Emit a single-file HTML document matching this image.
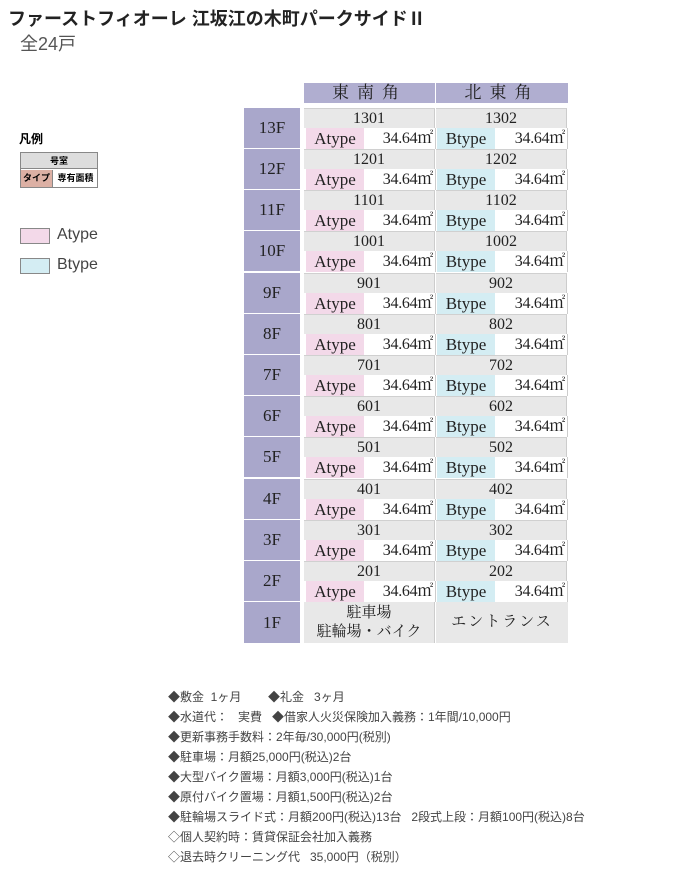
<!DOCTYPE html>
<html><head><meta charset="utf-8"><style>
*{margin:0;padding:0;box-sizing:border-box}
body{width:700px;height:869px;background:#fff;position:relative;font-family:"Liberation Sans","Noto Sans CJK JP",sans-serif;overflow:hidden}
.a{position:absolute}
.s{font-family:"Liberation Serif","Noto Serif CJK SC",serif;color:#222}
.fl{position:absolute;left:244px;width:56px;background:#a9a7cb;border-bottom:2px solid #fff;display:flex;align-items:center;justify-content:center;font-size:17px}
.f{position:absolute;left:304px;width:265px;height:41px}
.n{position:absolute;top:0;height:20px;width:131px;background:#e8e8e8;text-align:center;font-size:16px;line-height:20px;border-right:1px solid #ccc;border-top:1px solid #d0d0d0}
.t{position:absolute;top:20px;height:21px;width:58px;font-size:17px;line-height:21px;text-align:center}
.v{position:absolute;top:20px;height:21px;width:72px;background:#fff;font-size:16px;line-height:21px;text-align:right;padding-right:2px;border-right:1px solid #ccc;letter-spacing:-0.3px}
.ta{background:#f3d9e9}.tb{background:#d4edf3}
.note{position:absolute;left:168px;font-size:12px;color:#444;white-space:pre}
</style></head><body>
<div class="a" style="left:8px;top:5px;font-size:18px;font-weight:bold;color:#222">ファーストフィオーレ 江坂江の木町パークサイドⅡ</div>
<div class="a" style="left:20px;top:30px;font-size:18px;color:#555">全24戸</div>
<div class="a" style="left:19px;top:130px;font-size:12px;font-weight:bold">凡例</div>
<div class="a" style="left:20px;top:152px;width:78px;height:36px;border:1px solid #888;font-size:9px;font-weight:bold">
<div style="height:16px;background:#ddd;text-align:center;line-height:16px;border-bottom:1px solid #888">号室</div>
<div style="position:absolute;left:0;top:17px;width:32px;height:17px;background:#dcb0a4;text-align:center;line-height:17px;border-right:1px solid #888">タイプ</div>
<div style="position:absolute;left:33px;top:17px;width:43px;height:17px;text-align:center;line-height:17px">専有面積</div></div>
<div class="a" style="left:20px;top:228px;width:30px;height:16px;background:#f3d9e9;border:1px solid #888"></div>
<div class="a" style="left:57px;top:226px;font-size:16px;color:#444">Atype</div>
<div class="a" style="left:20px;top:258px;width:30px;height:16px;background:#d4edf3;border:1px solid #888"></div>
<div class="a" style="left:57px;top:256px;font-size:16px;color:#444">Btype</div>

<div class="a s" style="left:304px;top:83px;width:131px;height:20px;background:#b0aed0;text-align:center;font-size:17px;line-height:20px;letter-spacing:8px">東南角</div>
<div class="a s" style="left:436px;top:83px;width:132px;height:20px;background:#b0aed0;text-align:center;font-size:17px;line-height:20px;letter-spacing:8px">北東角</div>

<div class="fl s" style="top:108px;height:42px">13F</div>
<div class="f s" style="top:108px"><div class="n" style="left:0">1301</div><div class="n" style="left:132px">1302</div><div class="t ta" style="left:2px">Atype</div><div class="v" style="left:60px">34.64㎡</div><div class="t tb" style="left:133px">Btype</div><div class="v" style="left:192px">34.64㎡</div></div>
<div class="fl s" style="top:149px;height:42px">12F</div>
<div class="f s" style="top:149px"><div class="n" style="left:0">1201</div><div class="n" style="left:132px">1202</div><div class="t ta" style="left:2px">Atype</div><div class="v" style="left:60px">34.64㎡</div><div class="t tb" style="left:133px">Btype</div><div class="v" style="left:192px">34.64㎡</div></div>
<div class="fl s" style="top:190px;height:42px">11F</div>
<div class="f s" style="top:190px"><div class="n" style="left:0">1101</div><div class="n" style="left:132px">1102</div><div class="t ta" style="left:2px">Atype</div><div class="v" style="left:60px">34.64㎡</div><div class="t tb" style="left:133px">Btype</div><div class="v" style="left:192px">34.64㎡</div></div>
<div class="fl s" style="top:231px;height:42px">10F</div>
<div class="f s" style="top:231px"><div class="n" style="left:0">1001</div><div class="n" style="left:132px">1002</div><div class="t ta" style="left:2px">Atype</div><div class="v" style="left:60px">34.64㎡</div><div class="t tb" style="left:133px">Btype</div><div class="v" style="left:192px">34.64㎡</div></div>
<div class="fl s" style="top:273px;height:42px">9F</div>
<div class="f s" style="top:273px"><div class="n" style="left:0">901</div><div class="n" style="left:132px">902</div><div class="t ta" style="left:2px">Atype</div><div class="v" style="left:60px">34.64㎡</div><div class="t tb" style="left:133px">Btype</div><div class="v" style="left:192px">34.64㎡</div></div>
<div class="fl s" style="top:314px;height:42px">8F</div>
<div class="f s" style="top:314px"><div class="n" style="left:0">801</div><div class="n" style="left:132px">802</div><div class="t ta" style="left:2px">Atype</div><div class="v" style="left:60px">34.64㎡</div><div class="t tb" style="left:133px">Btype</div><div class="v" style="left:192px">34.64㎡</div></div>
<div class="fl s" style="top:355px;height:42px">7F</div>
<div class="f s" style="top:355px"><div class="n" style="left:0">701</div><div class="n" style="left:132px">702</div><div class="t ta" style="left:2px">Atype</div><div class="v" style="left:60px">34.64㎡</div><div class="t tb" style="left:133px">Btype</div><div class="v" style="left:192px">34.64㎡</div></div>
<div class="fl s" style="top:396px;height:42px">6F</div>
<div class="f s" style="top:396px"><div class="n" style="left:0">601</div><div class="n" style="left:132px">602</div><div class="t ta" style="left:2px">Atype</div><div class="v" style="left:60px">34.64㎡</div><div class="t tb" style="left:133px">Btype</div><div class="v" style="left:192px">34.64㎡</div></div>
<div class="fl s" style="top:437px;height:42px">5F</div>
<div class="f s" style="top:437px"><div class="n" style="left:0">501</div><div class="n" style="left:132px">502</div><div class="t ta" style="left:2px">Atype</div><div class="v" style="left:60px">34.64㎡</div><div class="t tb" style="left:133px">Btype</div><div class="v" style="left:192px">34.64㎡</div></div>
<div class="fl s" style="top:479px;height:42px">4F</div>
<div class="f s" style="top:479px"><div class="n" style="left:0">401</div><div class="n" style="left:132px">402</div><div class="t ta" style="left:2px">Atype</div><div class="v" style="left:60px">34.64㎡</div><div class="t tb" style="left:133px">Btype</div><div class="v" style="left:192px">34.64㎡</div></div>
<div class="fl s" style="top:520px;height:42px">3F</div>
<div class="f s" style="top:520px"><div class="n" style="left:0">301</div><div class="n" style="left:132px">302</div><div class="t ta" style="left:2px">Atype</div><div class="v" style="left:60px">34.64㎡</div><div class="t tb" style="left:133px">Btype</div><div class="v" style="left:192px">34.64㎡</div></div>
<div class="fl s" style="top:561px;height:42px">2F</div>
<div class="f s" style="top:561px"><div class="n" style="left:0">201</div><div class="n" style="left:132px">202</div><div class="t ta" style="left:2px">Atype</div><div class="v" style="left:60px">34.64㎡</div><div class="t tb" style="left:133px">Btype</div><div class="v" style="left:192px">34.64㎡</div></div>
<div class="fl s" style="top:602px;height:41px;border:none">1F</div>
<div class="a s" style="left:304px;top:602px;width:131px;height:41px;background:#e8e8e8;text-align:center;font-size:15px;line-height:19px;padding-top:2px;border-right:1px solid #ccc">駐車場<br>駐輪場・バイク</div>
<div class="a s" style="left:436px;top:602px;width:132px;height:41px;background:#e8e8e8;text-align:center;font-size:15px;line-height:41px;letter-spacing:2px">エントランス</div>

<div class="note" style="top:688px">◆敷金  1ヶ月        ◆礼金   3ヶ月</div>
<div class="note" style="top:708px">◆水道代：   実費   ◆借家人火災保険加入義務：1年間/10,000円</div>
<div class="note" style="top:728px">◆更新事務手数料：2年毎/30,000円(税別)</div>
<div class="note" style="top:748px">◆駐車場：月額25,000円(税込)2台</div>
<div class="note" style="top:768px">◆大型バイク置場：月額3,000円(税込)1台</div>
<div class="note" style="top:788px">◆原付バイク置場：月額1,500円(税込)2台</div>
<div class="note" style="top:808px">◆駐輪場スライド式：月額200円(税込)13台   2段式上段：月額100円(税込)8台</div>
<div class="note" style="top:828px">◇個人契約時：賃貸保証会社加入義務</div>
<div class="note" style="top:848px">◇退去時クリーニング代   35,000円（税別）</div>
</body></html>
